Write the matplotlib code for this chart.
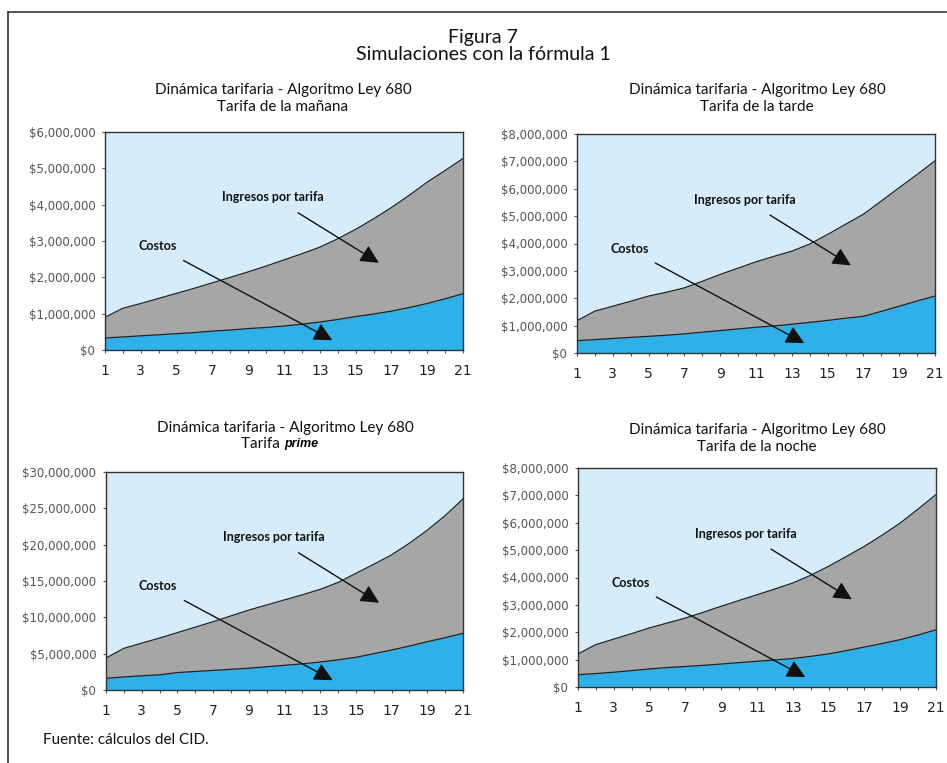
import matplotlib
matplotlib.use("Agg")
import matplotlib.pyplot as plt
import numpy as np
from matplotlib.ticker import FuncFormatter, MultipleLocator, FixedLocator

periods = list(range(1, 22))
x_labels = [str(p) for p in range(1, 22, 2)]

# Tarifa de la mañana
ingresos_manana = [0.90, 1.15, 1.28, 1.42, 1.56, 1.70, 1.85, 2.00, 2.15, 2.31, 2.48,
                   2.65, 2.83, 3.06, 3.32, 3.61, 3.92, 4.26, 4.62, 4.94, 5.27]
costos_manana = [0.33, 0.36, 0.39, 0.42, 0.45, 0.48, 0.52, 0.55, 0.59, 0.62, 0.66,
                 0.71, 0.77, 0.84, 0.92, 0.99, 1.07, 1.17, 1.28, 1.41, 1.55]
# Tarifa de la tarde
ingresos_tarde = [1.18, 1.53, 1.71, 1.89, 2.08, 2.22, 2.38, 2.62, 2.87, 3.10, 3.33,
                  3.53, 3.72, 3.98, 4.33, 4.70, 5.07, 5.55, 6.04, 6.52, 7.02]
costos_tarde = [0.45, 0.49, 0.53, 0.57, 0.61, 0.65, 0.70, 0.76, 0.82, 0.88, 0.94,
                0.99, 1.05, 1.12, 1.19, 1.27, 1.34, 1.52, 1.71, 1.90, 2.08]
# Tarifa prime
ingresos_prime = [4.4, 5.73, 6.45, 7.15, 7.9, 8.65, 9.4, 10.2, 11.0, 11.7, 12.4,
                  13.1, 13.85, 14.8, 16.05, 17.3, 18.6, 20.2, 22.0, 24.0, 26.3]
costos_prime = [1.6, 1.8, 1.95, 2.1, 2.4, 2.55, 2.7, 2.85, 3.0, 3.2, 3.4,
                3.6, 3.85, 4.15, 4.5, 5.0, 5.5, 6.05, 6.65, 7.2, 7.8]
# Tarifa de la noche
ingresos_noche = [1.21, 1.55, 1.75, 1.95, 2.16, 2.34, 2.52, 2.73, 2.95, 3.16, 3.37,
                  3.58, 3.80, 4.08, 4.41, 4.77, 5.14, 5.55, 5.99, 6.50, 7.03]
costos_noche = [0.45, 0.49, 0.54, 0.60, 0.66, 0.71, 0.75, 0.79, 0.84, 0.89, 0.94,
                0.99, 1.04, 1.12, 1.21, 1.33, 1.46, 1.59, 1.73, 1.90, 2.09]

panels = [
    ("Tarifa de la mañana", ingresos_manana, costos_manana, 6, 1),
    ("Tarifa de la tarde", ingresos_tarde, costos_tarde, 8, 1),
    ("Tarifa prime", ingresos_prime, costos_prime, 30, 5),
    ("Tarifa de la noche", ingresos_noche, costos_noche, 8, 1),
]

# axes rects in pixels: left, top, right, bottom
W, H = 947, 763
rects_px = [(105, 132, 463, 350), (577, 134, 935, 353),
            (106, 472, 463, 690), (578, 468, 936, 687)]
title_px = [(283, 90), (757, 90), (285, 428), (757, 430)]

C_BG = "#D6ECFA"
C_ING = "#A6A6A6"
C_COST = "#2FB0E8"

fig = plt.figure(figsize=(W / 100, H / 100), dpi=100)
TFONT = ["Lato", "DejaVu Sans"]

fig.text(483 / W, 1 - 38 / H, "Figura 7", ha="center", va="center", fontsize=14,
         family=TFONT, color="#111")
fig.text(483 / W, 1 - 55 / H, "Simulaciones con la fórmula 1", ha="center", va="center",
         fontsize=14, family=TFONT, color="#111")

for i, (name, ing, cost, ymax, step) in enumerate(panels):
    l, t, r, b = rects_px[i]
    ax = fig.add_axes([l / W, 1 - b / H, (r - l) / W, (b - t) / H])
    ax.set_facecolor(C_BG)
    ing_v = np.array(ing) * 1e6
    cost_v = np.array(cost) * 1e6
    ax.fill_between(periods, 0, ing_v, color=C_ING, lw=0)
    ax.fill_between(periods, 0, cost_v, color=C_COST, lw=0)
    ax.plot(periods, ing_v, color="#222", lw=0.9)
    ax.plot(periods, cost_v, color="#222", lw=0.9)
    ax.set_xlim(1, 21)
    ax.set_ylim(0, ymax * 1e6)
    ax.yaxis.set_major_locator(MultipleLocator(step * 1e6))
    ax.yaxis.set_major_formatter(FuncFormatter(lambda v, p: "${:,.0f}".format(v)))
    ax.xaxis.set_major_locator(FixedLocator(list(range(1, 22, 2))))
    ax.set_xticklabels(x_labels)
    ax.xaxis.set_minor_locator(FixedLocator(periods))
    ax.tick_params(axis="y", labelsize=8.5, labelcolor="#555", length=2, width=0.8,
                   color="#555", pad=5)
    ax.tick_params(axis="x", which="both", labelsize=10, labelcolor="#222", length=2,
                   width=0.8, color="#555", pad=8)
    for sp in ax.spines.values():
        sp.set_color("#333")
        sp.set_linewidth(1.0)

    ax.annotate("Ingresos por tarifa", xy=(0.765, 0.40), xycoords="axes fraction",
                xytext=(0.47, 0.70), textcoords="axes fraction", ha="center", va="center",
                fontsize=9, fontweight="bold", family=TFONT, color="#111",
                arrowprops=dict(arrowstyle="-|>", color="#111", lw=1.0, mutation_scale=28,
                                shrinkA=9, shrinkB=0))
    ax.annotate("Costos", xy=(0.635, 0.045), xycoords="axes fraction",
                xytext=(0.146, 0.475), textcoords="axes fraction", ha="center", va="center",
                fontsize=9, fontweight="bold", family=TFONT, color="#111",
                arrowprops=dict(arrowstyle="-|>", color="#111", lw=1.0, mutation_scale=28,
                                shrinkA=8, shrinkB=0))

    cx, cy = title_px[i]
    fig.text(cx / W, 1 - cy / H, "Dinámica tarifaria - Algoritmo Ley 680", ha="center",
             va="center", fontsize=11, family=TFONT, color="#111")
    if name == "Tarifa prime":
        fig.text(cx / W - 0.001, 1 - (cy + 16) / H, "Tarifa ", ha="right", va="center",
                 fontsize=11, family=TFONT, color="#111")
        fig.text(cx / W - 0.001, 1 - (cy + 16) / H, "prime", ha="left", va="center",
                 fontsize=9, family=["Liberation Sans", "DejaVu Sans"],
                 fontweight="bold", style="italic", color="#000")
    else:
        fig.text(cx / W, 1 - (cy + 17) / H, name, ha="center", va="center", fontsize=11,
                 family=TFONT, color="#111")

fig.text(43 / W, 1 - 740 / H, "Fuente: cálculos del CID.", ha="left", va="center",
         fontsize=11, family=TFONT, color="#111")

# frame lines
fig.add_artist(plt.Line2D([8 / W, 8 / W], [0, 1 - 12 / H], color="#333", lw=1.2))
fig.add_artist(plt.Line2D([8 / W, 946 / W], [1 - 12 / H, 1 - 12 / H], color="#333", lw=1.2))

fig.savefig("out.png", dpi=100)
